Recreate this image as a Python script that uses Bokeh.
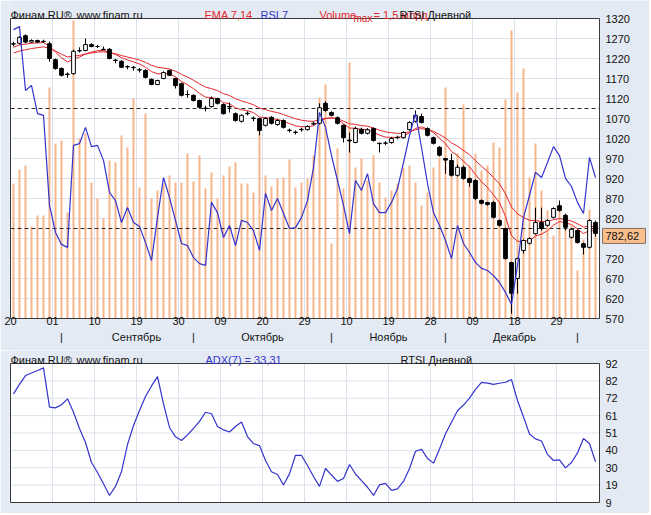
from bokeh.plotting import figure
from bokeh.models import Range1d, LinearAxis, FixedTicker
from bokeh.core.properties import value
from bokeh.layouts import column
from bokeh.embed import file_html
from bokeh.resources import INLINE

# ---------------- data (RTSI daily) ----------------
opens = [1256, 1258, 1277, 1261, 1265, 1262, 1257, 1217, 1195, 1180,
         1182, 1239, 1240, 1255, 1250, 1243, 1243, 1216, 1213, 1200,
         1198, 1192, 1190, 1168, 1155, 1170, 1190, 1170, 1157, 1130,
         1128, 1115, 1096, 1100, 1120, 1105, 1100, 1082, 1063, 1083,
         1071, 1070, 1053, 1073, 1055, 1065, 1041, 1036, 1042, 1042,
         1056, 1058, 1108, 1085, 1072, 1053, 1016, 1010, 1043, 1033,
         1045, 1008, 1008, 1010, 1022, 1022, 1042, 1063, 1075, 1045,
         1022, 998, 970, 965, 928, 948, 920, 915, 865, 860,
         860, 815, 795, 710, 670, 740, 758, 782, 810, 803,
         823, 852, 828, 773, 790, 757, 748, 810]
highs = [1262, 1276, 1280, 1268, 1267, 1267, 1262, 1220, 1198, 1185,
         1242, 1248, 1270, 1258, 1254, 1250, 1246, 1219, 1216, 1203,
         1201, 1196, 1193, 1170, 1167, 1188, 1192, 1172, 1160, 1140,
         1130, 1117, 1102, 1125, 1122, 1108, 1110, 1085, 1080, 1088,
         1075, 1072, 1073, 1076, 1068, 1068, 1045, 1040, 1047, 1053,
         1062, 1108, 1113, 1088, 1075, 1055, 1035, 1050, 1047, 1046,
         1048, 1010, 1013, 1024, 1027, 1038, 1063, 1090, 1082, 1048,
         1025, 1001, 972, 982, 955, 952, 922, 918, 868, 862,
         864, 818, 797, 712, 722, 768, 773, 847, 847, 818,
         848, 865, 832, 796, 793, 760, 818, 815]
lows = [1250, 1255, 1258, 1259, 1259, 1259, 1212, 1192, 1175, 1172,
        1180, 1235, 1238, 1248, 1246, 1241, 1218, 1208, 1196, 1193,
        1190, 1185, 1170, 1153, 1153, 1168, 1176, 1145, 1125, 1122,
        1112, 1095, 1088, 1097, 1105, 1080, 1085, 1062, 1060, 1078,
        1063, 1028, 1050, 1055, 1052, 1045, 1035, 1030, 1037, 1040,
        1053, 1055, 1087, 1075, 1055, 1010, 985, 1008, 1030, 1030,
        1012, 985, 1003, 1007, 1018, 1020, 1040, 1060, 1057, 1025,
        1005, 975, 932, 925, 925, 917, 900, 866, 855, 852,
        820, 800, 717, 582, 632, 732, 755, 780, 790, 800,
        820, 837, 790, 770, 757, 730, 745, 775]
closes = [1257, 1273, 1261, 1265, 1261, 1263, 1220, 1195, 1178, 1181,
          1238, 1240, 1255, 1250, 1250, 1242, 1220, 1215, 1198, 1199,
          1197, 1191, 1173, 1155, 1165, 1185, 1178, 1152, 1128, 1130,
          1115, 1098, 1095, 1120, 1108, 1082, 1099, 1065, 1078, 1082,
          1070, 1040, 1070, 1058, 1065, 1048, 1040, 1035, 1043, 1050,
          1058, 1097, 1090, 1078, 1058, 1022, 1014, 1045, 1033, 1042,
          1015, 1007, 1009, 1020, 1023, 1035, 1060, 1078, 1060, 1028,
          1008, 978, 966, 928, 948, 920, 910, 870, 858, 855,
          823, 803, 720, 633, 720, 765, 770, 810, 795, 815,
          845, 840, 798, 793, 760, 748, 815, 782.62]
# volume, billions (Volume max = 1,5 bln)
volumes = [0.675, 0.745, 0.765, 0.46, 0.515, 0.515, 1.155, 0.875, 0.89, 0.53,
           1.49, 0.90, 0.925, 0.68, 0.60, 0.50, 0.79, 0.78, 0.915, 0.855,
           1.10, 0.655, 1.025, 0.60, 0.64, 0.675, 0.715, 0.68, 0.68, 0.825,
           0.685, 0.815, 0.65, 0.73, 0.60, 0.715, 0.76, 0.78, 0.675, 0.675,
           0.63, 0.95, 0.715, 0.66, 0.70, 0.705, 0.795, 0.655, 0.68, 0.70,
           0.815, 1.105, 1.17, 0.375, 0.85, 0.65, 1.28, 0.755, 0.80, 0.69,
           0.815, 0.68, 0.605, 0.64, 0.675, 0.755, 0.765, 0.68, 0.565, 0.63,
           0.755, 0.805, 1.155, 0.75, 0.825, 1.07, 0.765, 0.825, 0.74, 0.765,
           0.88, 0.855, 1.095, 1.44, 1.13, 1.25, 0.705, 0.875, 0.64, 0.54,
           0.415, 0.555, 0.52, 0.465, 0.24, 0.395, 0.545, 0.44]
rsi7 = [96.3, 97.3, 76.0, 77.7, 68.3, 67.7, 37.7, 28.7, 24.7, 23.7,
        57.7, 58.3, 63.7, 57.3, 57.7, 52.7, 42.0, 39.3, 32.0, 37.0,
        32.0, 30.7, 25.3, 19.3, 33.7, 47.0, 40.3, 32.7, 25.0, 24.3,
        20.3, 18.3, 17.7, 38.7, 35.3, 27.0, 31.0, 24.3, 32.7, 32.0,
        29.3, 22.7, 41.7, 36.0, 40.0, 35.0, 30.0, 30.3, 33.7, 39.3,
        50.3, 68.7, 63.7, 54.3, 46.0, 37.7, 28.3, 46.0, 42.7, 48.3,
        38.3, 35.3, 35.3, 38.7, 43.3, 52.0, 61.0, 68.3, 57.0, 45.0,
        35.3, 31.0, 26.0, 20.0, 31.0, 25.0, 22.0, 18.7, 16.7, 16.0,
        14.3, 12.0, 8.7, 4.7, 17.7, 33.7, 41.0, 48.7, 47.0, 52.0,
        57.3, 54.3, 46.7, 44.0, 38.7, 35.0, 53.7, 47.0]
adx7 = [73.9, 79.5, 84.8, 86.3, 87.8, 89.4, 65.9, 65.5, 67.4, 70.9,
        62.9, 53.2, 44.8, 32.9, 26.9, 20.2, 13.2, 18.6, 27.5, 43.6,
        55.0, 63.9, 72.3, 78.6, 84.2, 67.9, 53.8, 48.2, 46.0, 49.4,
        53.2, 57.4, 62.9, 62.0, 54.4, 52.4, 51.1, 54.4, 57.1, 48.4,
        44.1, 43.0, 34.1, 27.4, 25.7, 19.5, 26.1, 37.2, 37.1, 31.1,
        24.5, 18.6, 29.3, 25.4, 21.6, 23.3, 31.7, 26.0, 22.1, 18.1,
        13.2, 19.5, 20.4, 16.2, 17.1, 21.6, 29.3, 39.6, 40.7, 35.3,
        32.5, 41.0, 50.0, 56.9, 63.8, 67.2, 71.3, 76.5, 80.7, 80.3,
        79.5, 80.2, 80.8, 82.4, 69.9, 60.1, 49.9, 47.0, 45.7, 37.7,
        34.1, 34.5, 29.7, 32.9, 38.6, 47.2, 44.2, 33.31]
ema7_prior = 1245     # EMA values just before the first bar
ema14_prior = 1230
rsi_levels = [70, 30]
last_price_text = "782,62"

price_lo, price_hi = 570, 1320
price_ticks = list(range(570, 1321, 50))
adx_lo, adx_hi = 9, 92
adx_tick_labels = ["9", "19", "30", "40", "51", "61", "72", "82", "92"]
day_labels = ["20", "01", "10", "19", "30", "09", "20", "29", "10", "19", "28", "09", "18", "29"]
month_names = ["Сентябрь", "Октябрь", "Ноябрь", "Декабрь"]
month_start_idx = [8, 30, 53, 72, 94]

# ---------------- derived ----------------
def ema(vals, period, prior):
    a = 2.0 / (period + 1)
    e = prior
    out = []
    for v in vals:
        e = a * v + (1 - a) * e
        out.append(e)
    return out

ema7 = ema(closes, 7, ema7_prior)
ema14 = ema(closes, 14, ema14_prior)

n = len(closes)
idx = list(range(n))
day_ticks = [-0.5 + 7 * k for k in range(len(day_labels))]
name_ticks = [day_ticks[k] for k in (3, 6, 9, 12)]
adx_ticks = [adx_lo + k * (adx_hi - adx_lo) / (len(adx_tick_labels) - 1) for k in range(len(adx_tick_labels))]

# ---------------- style / geometry ----------------
BG = "#E4EAF3"
GRID = "#DCE2EB"
FONT = "Liberation Sans"
RED = "#E3262B"
BLUE = "#3434CC"
DARK = "#111111"
VOL = "#F6B58A"
EDGE = "#3a3a3a"
SLOT = 6.0              # pixels per bar
DATA_L, DATA_R = 10, 599  # plot area in page pixels
FRAME_L, FRAME_R = 9, 649
X0 = -0.5
X_END = X0 + (DATA_R - DATA_L) / SLOT


def px(xpix):
    """page pixel -> bar index coordinate"""
    return X0 + (xpix - DATA_L) / SLOT


def extend(lo, hi, data_px, above_px, below_px):
    per = (hi - lo) / data_px
    return Range1d(lo - below_px * per, hi + above_px * per)


def style_axis(ax, standoff, color=DARK, size="11px"):
    ax.major_tick_out = 0
    ax.major_tick_in = 0
    ax.minor_tick_out = 0
    ax.minor_tick_in = 0
    ax.axis_line_color = None
    ax.major_label_text_font = FONT
    ax.major_label_text_font_size = size
    ax.major_label_text_color = color
    ax.major_label_standoff = standoff


def panel_base(p, ylo, yhi, xticks, yticks):
    # white plot area, grid, frame
    p.quad(left=[X0], right=[X_END], bottom=[ylo], top=[yhi], fill_color="white", line_color=None)
    p.segment(x0=xticks, x1=xticks, y0=[ylo] * len(xticks), y1=[yhi] * len(xticks),
              line_color=GRID, line_width=1)
    p.segment(x0=[X0] * len(yticks), x1=[X_END] * len(yticks), y0=yticks, y1=yticks,
              line_color=GRID, line_width=1)


def frame_edge(p, ylo, yhi):
    p.quad(left=[X0], right=[X_END], bottom=[ylo], top=[yhi], fill_color=None,
           line_color=EDGE, line_width=1)


def texts(p, y, items, size="11px"):
    for xpix, txt, col in items:
        p.text(x=[px(xpix)], y=[y], text=[txt], text_color=col, text_font=value(FONT),
               text_font_size=size, text_baseline="alphabetic", text_align="left")


xr = Range1d(px(FRAME_L), px(FRAME_R))

# ---------------- top panel ----------------
TOP_ABOVE, TOP_H, TOP_BELOW = 18, 300, 7
ppu = TOP_H / (price_hi - price_lo)       # pixels per price unit
top = figure(frame_width=FRAME_R - FRAME_L, frame_height=TOP_ABOVE + TOP_H + TOP_BELOW,
             x_range=xr, y_range=extend(price_lo, price_hi, TOP_H, TOP_ABOVE, TOP_BELOW),
             y_axis_location=None, toolbar_location=None, tools="", output_backend="svg",
             min_border_left=FRAME_L, min_border_right=0, min_border_top=0, min_border_bottom=25,
             background_fill_color=BG, border_fill_color=BG, outline_line_color=None)
top.grid.visible = False
top.extra_y_ranges = {"vol": extend(0, 1.5, TOP_H, TOP_ABOVE, TOP_BELOW),
                      "rsi": extend(0, 100, TOP_H, TOP_ABOVE, TOP_BELOW)}

panel_base(top, price_lo, price_hi, day_ticks, price_ticks)

top.vbar(x=idx, width=0.33, top=volumes, bottom=0, y_range_name="vol",
         fill_color=VOL, line_color=None)
top.segment(x0=[X0] * len(rsi_levels), x1=[X_END] * len(rsi_levels), y0=rsi_levels, y1=rsi_levels,
            y_range_name="rsi", line_color="#2a2a2a", line_dash="4 3", line_width=1)
top.line(idx, ema14, line_color=RED, line_width=1)
top.line(idx, ema7, line_color=RED, line_width=1)

body_top = [max(o, c) for o, c in zip(opens, closes)]
body_bot = [min(o, c) for o, c in zip(opens, closes)]
body_col = ["white" if c >= o else "black" for o, c in zip(opens, closes)]
top.segment(x0=idx, x1=idx, y0=lows, y1=highs, line_color="black", line_width=1)
top.vbar(x=idx, width=0.62, top=body_top, bottom=body_bot, fill_color=body_col,
         line_color="black", line_width=1)
top.line(idx, rsi7, y_range_name="rsi", line_color=BLUE, line_width=1.2)
frame_edge(top, price_lo, price_hi)

# price scale: axis pinned to the right edge of the plot area
shown_price_ticks = [t for t in price_ticks if abs(t - closes[-1]) > 20]   # one hidden by the marker
ya = LinearAxis(fixed_location=X_END, ticker=FixedTicker(ticks=shown_price_ticks),
                major_label_overrides={t: str(t) for t in shown_price_ticks})
style_axis(ya, 6)
top.add_layout(ya, "right")

# last-price marker
mark_y = closes[-1] - 2.5 / ppu
top.rect(x=[px(623.5)], y=[mark_y], width=43 / SLOT, height=15 / ppu,
         fill_color="#F8BE8C", line_color="#8a7060", line_width=1)
top.text(x=[px(605)], y=[mark_y], text=[last_price_text], text_color=DARK, text_font=value(FONT),
         text_font_size="11px", text_baseline="middle", text_align="left")

# captions
cap_y = price_hi + 3.5 / ppu
texts(top, cap_y, [(10, "Финам.RU®", DARK), (76, "www.finam.ru", DARK),
                   (204, "EMA 7,14", RED), (260, "RSI 7", BLUE), (319, "Volume", RED),
                   (373, "= 1,5 млрд.", RED)])
texts(top, price_hi + 0.5 / ppu, [(353, "max", RED)], "10px")
texts(top, cap_y, [(399, "RTSI Дневной", DARK)])

# date scale
xa = top.xaxis[0]
xa.ticker = FixedTicker(ticks=day_ticks)
xa.major_label_overrides = {t: l for t, l in zip(day_ticks, day_labels)}
style_axis(xa, -9)

month_ticks = month_start_idx + name_ticks
month_over = {t: "|" for t in month_start_idx}
month_over.update({t: m for t, m in zip(name_ticks, month_names)})
ma = LinearAxis(ticker=FixedTicker(ticks=month_ticks), major_label_overrides=month_over)
style_axis(ma, 3)
top.add_layout(ma, "below")

# ---------------- bottom panel ----------------
BOT_ABOVE, BOT_H, BOT_BELOW = 13, 139, 6
apu = BOT_H / (adx_hi - adx_lo)
bot = figure(frame_width=FRAME_R - FRAME_L, frame_height=BOT_ABOVE + BOT_H + BOT_BELOW,
             x_range=xr, y_range=extend(adx_lo, adx_hi, BOT_H, BOT_ABOVE, BOT_BELOW),
             y_axis_location=None, x_axis_location=None, toolbar_location=None, tools="",
             output_backend="svg", min_border_left=FRAME_L, min_border_right=0,
             min_border_top=0, min_border_bottom=5, background_fill_color=BG,
             border_fill_color=BG, outline_line_color=None)
bot.grid.visible = False
panel_base(bot, adx_lo, adx_hi, day_ticks, adx_ticks)
bot.line(idx, adx7, line_color=BLUE, line_width=1.2)
frame_edge(bot, adx_lo, adx_hi)

by = LinearAxis(fixed_location=X_END, ticker=FixedTicker(ticks=adx_ticks),
                major_label_overrides={t: l for t, l in zip(adx_ticks, adx_tick_labels)})
style_axis(by, 6)
bot.add_layout(by, "right")

bcap_y = adx_hi + 3.5 / apu
texts(bot, bcap_y, [(10, "Финам.RU®", DARK), (76, "www.finam.ru", DARK),
                    (205, "ADX(7) = 33,31", BLUE), (400, "RTSI Дневной", DARK)])

layout = column(top, bot, spacing=0)
open("out.html", "w").write(file_html(layout, INLINE))
